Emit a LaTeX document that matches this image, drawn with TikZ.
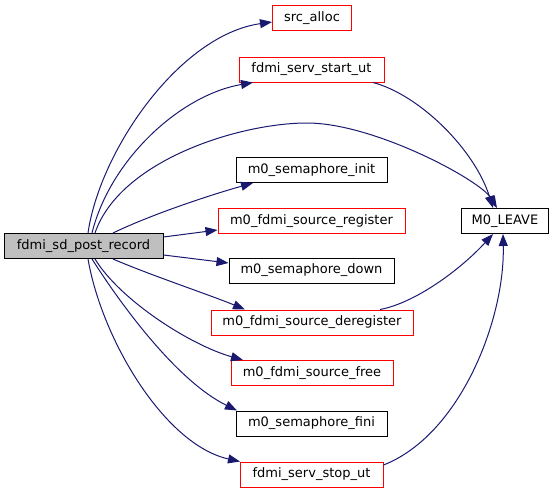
\documentclass[tikz,border=0pt]{standalone}
\usepackage{fontspec}
\setmainfont{DejaVu Sans}
\usetikzlibrary{arrows.meta}
\definecolor{edgeblue}{HTML}{191970}
\definecolor{mainfill}{HTML}{BFBFBF}
\tikzset{
  fbox/.style={draw=black, line width=1pt, inner sep=0pt, minimum height=25pt, font=\fontsize{13}{15}\selectfont},
  redbox/.style={fbox, draw=red},
  edge/.style={draw=edgeblue, line width=1pt, -{Triangle[length=12pt,width=9pt]}}
}
\begin{document}
\begin{tikzpicture}[x=1pt,y=-1pt]
\useasboundingbox (0,0) rectangle (555,493);
\node[fbox, fill=mainfill, minimum width=159pt] (main) at (83.5,246) {fdmi\_sd\_post\_record};
\node[redbox, minimum width=79pt] (src) at (312,18) {src\_alloc};
\node[redbox, minimum width=145pt] (start) at (311.5,69.5) {fdmi\_serv\_start\_ut};
\node[fbox, minimum width=151pt] (seminit) at (311.5,170) {m0\_semaphore\_init};
\node[redbox, minimum width=187pt] (reg) at (311.5,221) {m0\_fdmi\_source\_register};
\node[fbox, minimum width=165pt] (semdown) at (311.5,270.5) {m0\_semaphore\_down};
\node[redbox, minimum width=202pt] (dereg) at (312,322.5) {m0\_fdmi\_source\_deregister};
\node[redbox, minimum width=162pt] (free) at (312,373) {m0\_fdmi\_source\_free};
\node[fbox, minimum width=151pt] (semfini) at (311.5,423.5) {m0\_semaphore\_fini};
\node[redbox, minimum width=143pt] (stop) at (311.5,474.5) {fdmi\_serv\_stop\_ut};
\node[fbox, minimum width=87pt] (leave) at (505,221) {M0\_LEAVE};

\draw[edge] ([xshift=4.5pt]main.north) .. controls (100,150) and (180,35) .. ([yshift=-4pt]src.west);
\draw[edge] ([xshift=8.5pt]main.north) .. controls (110,160) and (180,95) .. ([xshift=-58.5pt]start.south);
\draw[edge] ([xshift=11.5pt]main.north) .. controls (120,160) and (240,123) .. (307,123)
  .. controls (374,123) and (480,180) .. ([xshift=-8pt]leave.north);
\draw[edge] ([xshift=61.5pt]start.south) .. controls (420,95) and (475,150) .. ([xshift=-12pt]leave.north);
\draw[edge] ([xshift=29.5pt]main.north) .. controls (150,215) and (210,195) .. ([xshift=-58.5pt]seminit.south);
\draw[edge] ([yshift=9pt]main.east) -- ([yshift=-9pt]reg.west);
\draw[edge] ([yshift=-9pt]main.east) -- ([yshift=7.5pt]semdown.west);
\draw[edge] ([xshift=29.5pt]main.south) .. controls (150,275) and (210,295) .. ([xshift=-67pt]dereg.north);
\draw[edge] ([xshift=11.5pt]main.south) .. controls (120,300) and (190,345) .. ([xshift=-69pt]free.north);
\draw[edge] ([xshift=8.5pt]main.south) .. controls (118,300) and (175,380) .. ([xshift=-74.5pt]semfini.north);
\draw[edge] ([xshift=4.5pt]main.south) .. controls (102,340) and (165,445) .. ([xshift=-71.5pt]stop.north);
\draw[edge] ([xshift=68pt]dereg.north) .. controls (415,303) and (460,270) .. ([xshift=-12pt]leave.south);
\draw[edge] ([yshift=9.5pt]stop.east) .. controls (460,435) and (505,320) .. ([xshift=-2pt]leave.south);
\end{tikzpicture}
\end{document}
